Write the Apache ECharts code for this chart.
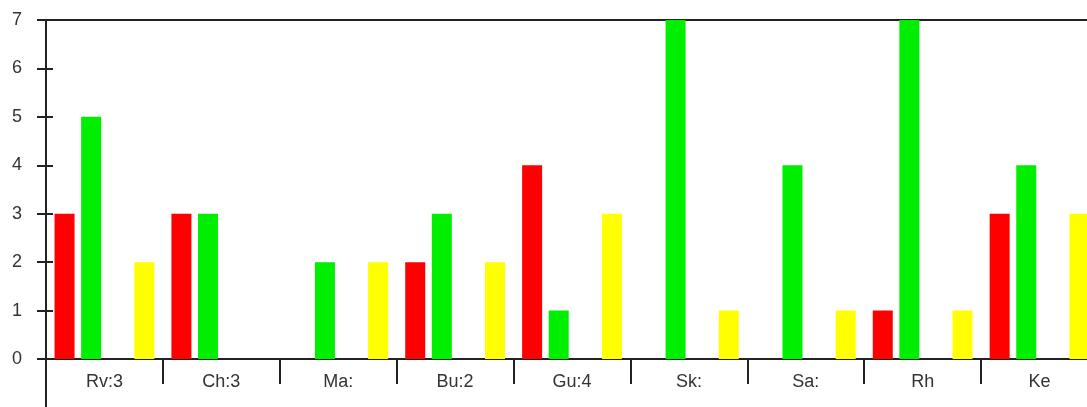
<!DOCTYPE html>
<html>
<head>
<meta charset="utf-8">
<script src="https://cdn.jsdelivr.net/npm/echarts@6/dist/echarts.min.js"></script>
<style>
html,body{margin:0;padding:0;background:#fff;}
#chart{width:1087px;height:407px;}
</style>
</head>
<body>
<div id="chart"></div>
<script>
const categories = ['Rv:3','Ch:3','Ma:','Bu:2','Gu:4','Sk:','Sa:','Rh','Ke'];
const redValues = [3,3,0,2,4,0,0,1,3];
const greenValues = [5,3,2,3,1,7,4,7,4];
const blankValues = [0,0,0,0,0,0,0,0,0];
const yellowValues = [2,0,2,2,3,1,1,1,3];
const yTicks = {min:0, max:7, interval:1};

const chart = echarts.init(document.getElementById('chart'), null, {renderer:'canvas'});
const font = 'Liberation Sans, Arial, sans-serif';
const bar = (name, data, color) => ({
  name, type:'bar', data, barWidth:20, barGap:'33%',
  itemStyle:{color}, animation:false, silent:true
});
chart.setOption({
  animation:false,
  grid:{left:46, top:20, width:1052, bottom:48, containLabel:false, outerBoundsMode:'none'},
  xAxis:[{
    type:'category', data:categories, position:'bottom',
    axisLine:{lineStyle:{color:'#222', width:2}},
    axisTick:{show:true, length:25, lineStyle:{color:'#222', width:2}},
    axisLabel:{color:'#333', fontSize:18, fontFamily:font, margin:14},
    splitLine:{show:false}
  },{
    type:'category', data:categories, position:'top',
    axisLine:{show:true, onZero:false, lineStyle:{color:'#222', width:2}},
    axisTick:{show:false}, axisLabel:{show:false}
  }],
  yAxis:[{
    type:'value', min:yTicks.min, max:yTicks.max, interval:yTicks.interval,
    axisLine:{show:true, lineStyle:{color:'#222', width:2}},
    axisTick:{show:true, length:9, lineStyle:{color:'#222', width:2}},
    axisLabel:{color:'#333', fontSize:18, fontFamily:font, margin:24},
    splitLine:{show:false}
  },{
    type:'value', min:yTicks.min, max:yTicks.max, interval:yTicks.interval, position:'left',
    axisLine:{show:false},
    axisTick:{show:true, inside:true, length:7, lineStyle:{color:'#222', width:2}},
    axisLabel:{show:false}, splitLine:{show:false}
  }],
  graphic:[{
    type:'line', shape:{x1:46, y1:359, x2:46, y2:407},
    style:{stroke:'#222', lineWidth:2}, z:10
  }],
  series:[
    bar('Red', redValues, '#ff0000'),
    bar('Green', greenValues, '#00ee00'),
    bar('Blank', blankValues, '#3366cc'),
    bar('Yellow', yellowValues, '#ffff00')
  ]
});
</script>
</body>
</html>
